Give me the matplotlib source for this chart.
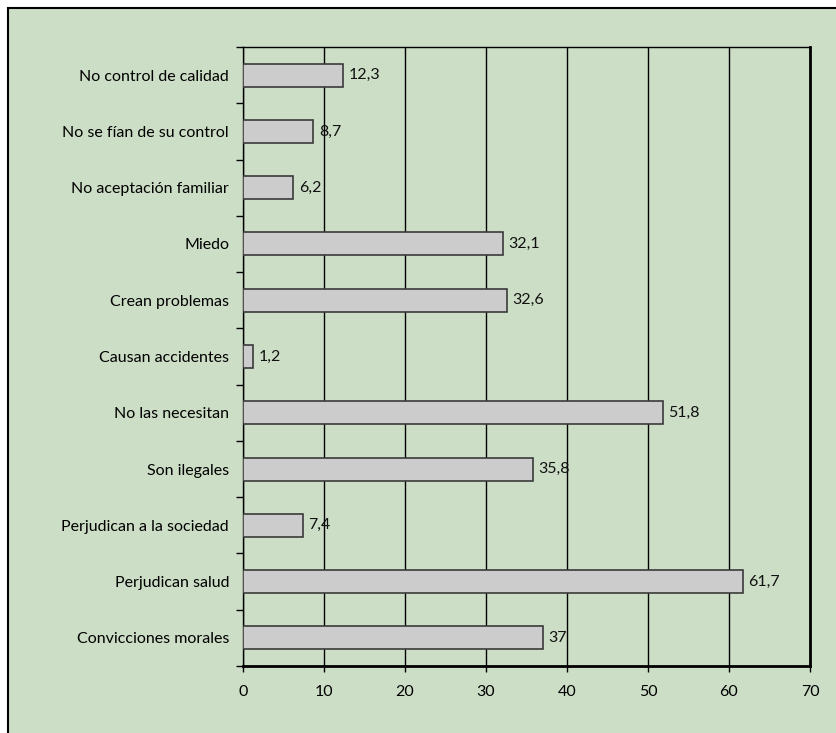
import matplotlib.pyplot as plt
from matplotlib.patches import Rectangle

# Motivos de no consumo (%)
categories = ['No control de calidad', 'No se fían de su control', 'No aceptación familiar',
              'Miedo', 'Crean problemas', 'Causan accidentes', 'No las necesitan',
              'Son ilegales', 'Perjudican a la sociedad', 'Perjudican salud',
              'Convicciones morales']
values = [12.3, 8.7, 6.2, 32.1, 32.6, 1.2, 51.8, 35.8, 7.4, 61.7, 37]
value_labels = ['12,3', '8,7', '6,2', '32,1', '32,6', '1,2', '51,8', '35,8', '7,4', '61,7', '37']
xticks = [0, 10, 20, 30, 40, 50, 60, 70]

bg = '#cddec6'
fs = 11.5
plt.rcParams['font.family'] = ['Lato', 'DejaVu Sans']

fig = plt.figure(figsize=(8.36, 7.33), dpi=100, facecolor='white')
W, H = 836, 733

# green panel with a dark frame
fig.patches.append(Rectangle((7.5 / W, -0.05), 1.1, 1 - 8 / H + 0.05, transform=fig.transFigure,
                             facecolor=bg, edgecolor='black', linewidth=1.5, zorder=-1))

ax = fig.add_axes([243 / W, 1 - 666 / H, (810 - 243) / W, (666 - 47) / H])
ax.set_zorder(1)
ax.set_facecolor(bg)

n = len(categories)
pos = list(range(n))[::-1]
ax.barh(pos, values, height=0.41, color='#cccccc', edgecolor='#3a3a3a', linewidth=1.2, zorder=3)
for p, v, lab in zip(pos, values, value_labels):
    ax.text(v + 0.7, p, lab, va='center', ha='left', fontsize=fs, color='#111111', zorder=4)

ax.set_xlim(0, 70)
ax.set_ylim(-0.5, n - 0.5)
ax.set_xticks(xticks)
ax.set_xticklabels([str(t) for t in xticks], fontsize=fs)
ax.set_yticks(pos)
ax.set_yticklabels(categories, fontsize=fs)
ax.set_yticks([i - 0.5 for i in range(n + 1)], minor=True)

ax.tick_params(axis='y', which='major', length=0, pad=10)
ax.tick_params(axis='y', which='minor', length=5, direction='out', width=1)
ax.tick_params(axis='x', length=4, direction='out', width=1, pad=10)

ax.xaxis.grid(True, color='black', linewidth=1, zorder=1)
ax.set_axisbelow(True)
for side in ['left', 'top']:
    ax.spines[side].set_linewidth(1)
for side in ['right', 'bottom']:
    ax.spines[side].set_linewidth(2)

plt.savefig('out.png', dpi=100, facecolor='white')
